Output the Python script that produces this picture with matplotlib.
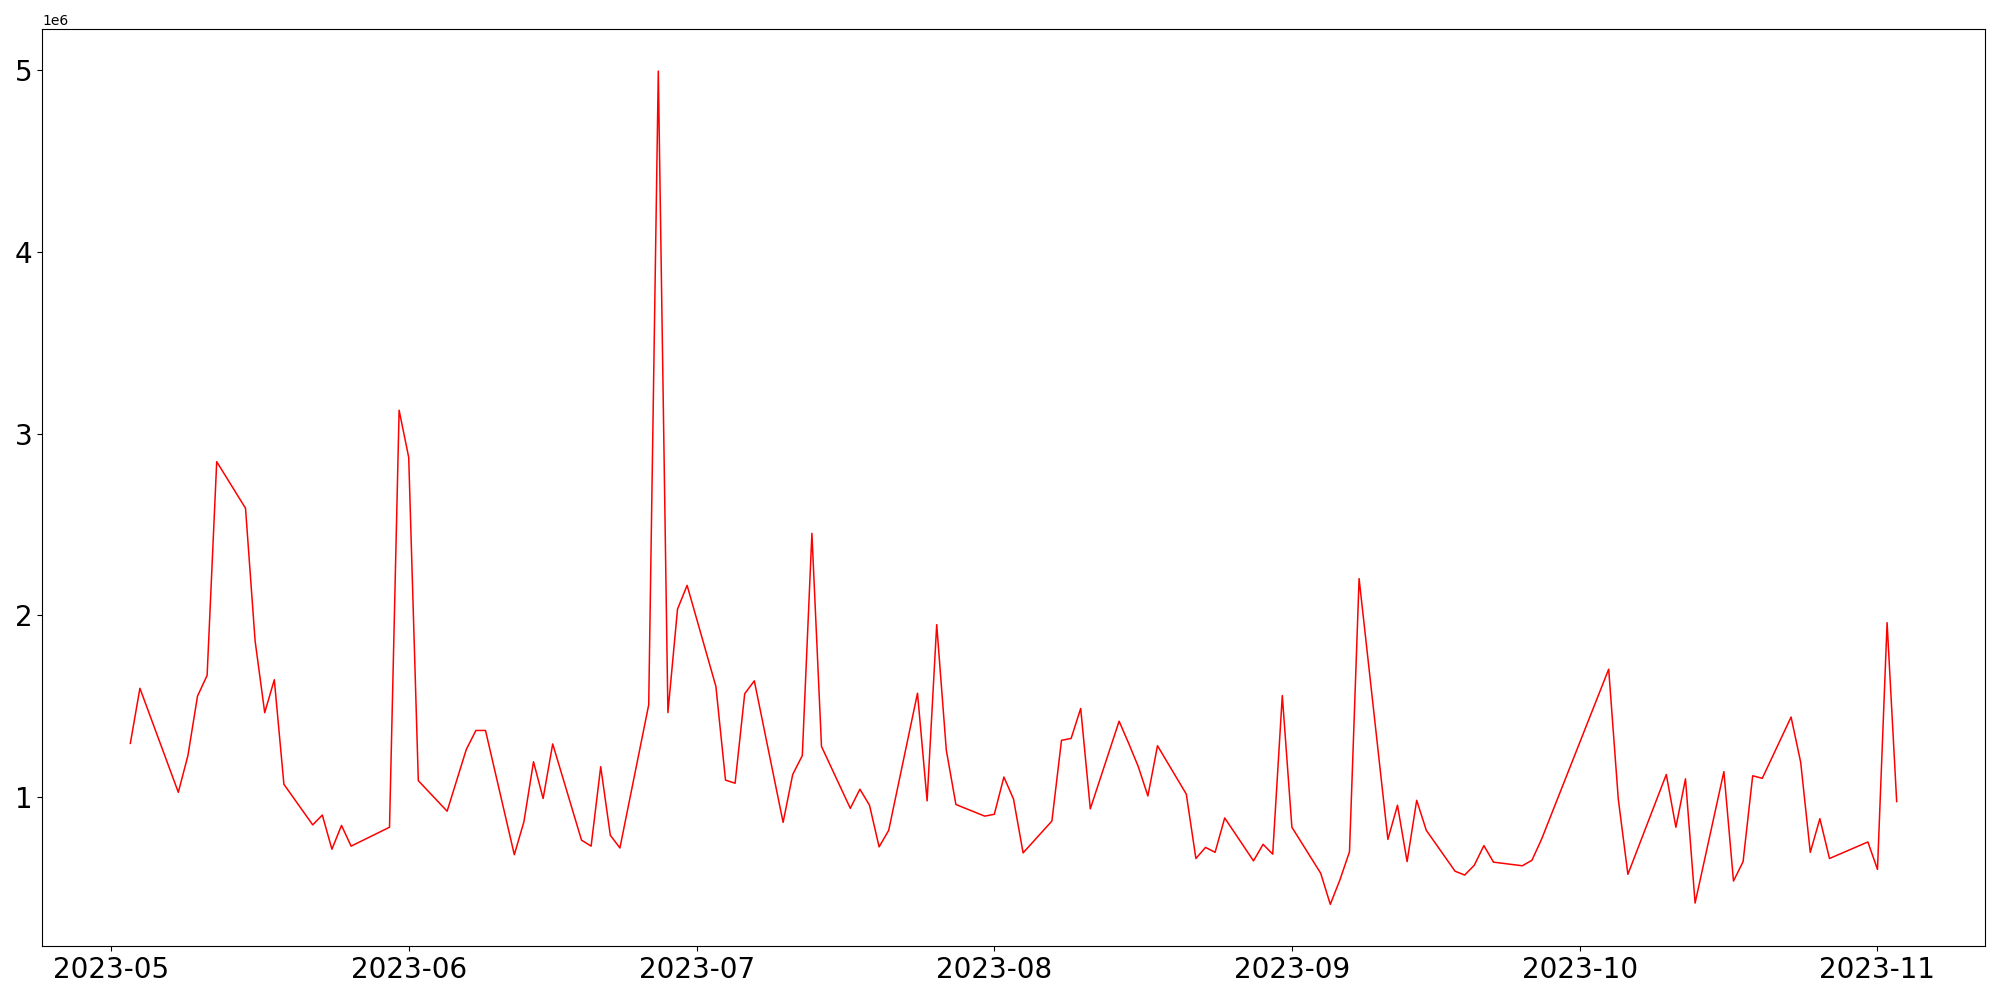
import numpy as np
import pandas as pd
import matplotlib
matplotlib.use("Agg")
import matplotlib.pyplot as plt

# daily values (millions)
may_days = [3, 4, 8, 9, 10, 11, 12, 15, 16, 17, 18, 19, 22, 23, 24, 25, 26, 30, 31]
may_vals = [1.296, 1.599, 1.027, 1.229, 1.556, 1.670, 2.845, 2.589, 1.859, 1.465,
            1.646, 1.071, 0.848, 0.902, 0.714, 0.845, 0.731, 0.835, 3.128]

jun_days = [1, 2, 5, 7, 8, 9, 12, 13, 14, 15, 16, 19, 20, 21, 22, 23, 26, 27, 28, 29, 30]
jun_vals = [2.869, 1.091, 0.923, 1.263, 1.367, 1.367, 0.684, 0.865, 1.195, 0.993,
            1.293, 0.764, 0.731, 1.168, 0.791, 0.721, 1.508, 4.993, 1.465, 2.034, 2.165]

jul_days = [3, 4, 5, 6, 7, 10, 11, 12, 13, 14, 17, 18, 19, 20, 21, 24, 25, 26, 27, 28, 31]
jul_vals = [1.609, 1.094, 1.077, 1.569, 1.640, 0.862, 1.125, 1.229, 2.451, 1.279,
            0.939, 1.044, 0.956, 0.727, 0.818, 1.572, 0.980, 1.949, 1.259, 0.960, 0.896]

aug_days = [1, 2, 3, 4, 7, 8, 9, 10, 11, 14, 15, 16, 17, 18, 21, 22, 23, 24, 25, 28, 29, 30, 31]
aug_vals = [0.906, 1.111, 0.990, 0.694, 0.869, 1.313, 1.323, 1.488, 0.936, 1.418,
            1.296, 1.168, 1.007, 1.283, 1.017, 0.663, 0.724, 0.697, 0.886, 0.650,
            0.741, 0.687, 1.559]

sep_days = [1, 4, 5, 6, 7, 8, 11, 12, 13, 14, 15, 18, 19, 20, 21, 22, 25, 26, 27]
sep_vals = [0.835, 0.582, 0.411, 0.545, 0.700, 2.202, 0.768, 0.956, 0.646, 0.983,
            0.818, 0.593, 0.572, 0.626, 0.734, 0.643, 0.623, 0.653, 0.768]

oct_days = [4, 5, 6, 10, 11, 12, 13, 16, 17, 18, 19, 20, 23, 24, 25, 26, 27, 31]
oct_vals = [1.704, 0.990, 0.576, 1.125, 0.835, 1.101, 0.418, 1.141, 0.539, 0.646,
            1.118, 1.104, 1.441, 1.192, 0.697, 0.882, 0.663, 0.754]

nov_days = [1, 2, 3]
nov_vals = [0.603, 1.960, 0.976]

months = [(5, may_days, may_vals), (6, jun_days, jun_vals), (7, jul_days, jul_vals),
          (8, aug_days, aug_vals), (9, sep_days, sep_vals), (10, oct_days, oct_vals),
          (11, nov_days, nov_vals)]

dates = []
values = []
for m, days, vals in months:
    dates += [pd.Timestamp(2023, m, d) for d in days]
    values += vals

df = pd.DataFrame({"date": dates, "value": np.array(values) * 1e6})

fig, ax = plt.subplots(figsize=(20, 10), dpi=100)
ax.plot(df["date"], df["value"], color="red", linewidth=1.1)
plt.xticks(fontsize=20)
plt.yticks(fontsize=20)
plt.subplots_adjust(left=0.021, right=0.9925, top=0.9706, bottom=0.054)
plt.savefig("out.png")
